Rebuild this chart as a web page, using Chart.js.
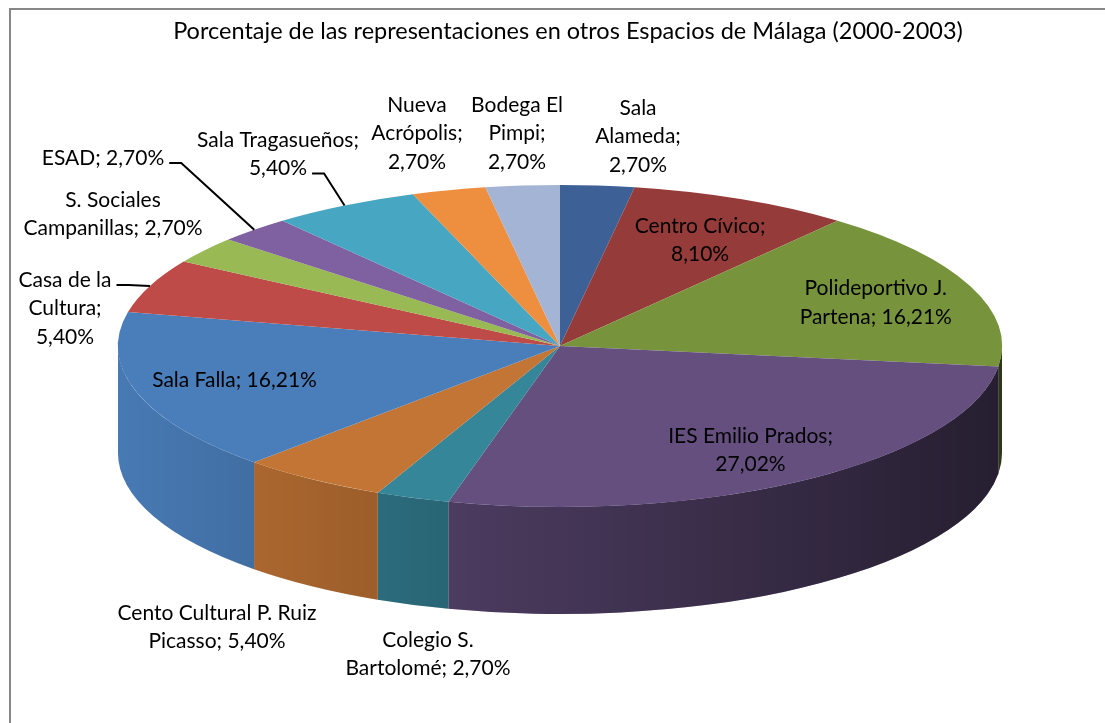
<!DOCTYPE html>
<html>
<head>
<meta charset="utf-8">
<title>Porcentaje de las representaciones en otros Espacios de Málaga</title>
<script src="https://cdn.jsdelivr.net/npm/chart.js@4"></script>
<style>
  html, body { margin: 0; padding: 0; background: #fff; }
  #chart { display: block; }
</style>
</head>
<body>
<canvas id="chart" width="1105" height="723"></canvas>
<script>
// data (Excel order, clockwise from 12 o'clock)
const TITLE = 'Porcentaje de las representaciones en otros Espacios de Málaga (2000-2003)';
const CATEGORIES = [
  'Sala Alameda', 'Centro Cívico', 'Polideportivo J. Partena', 'IES Emilio Prados',
  'Colegio S. Bartolomé', 'Cento Cultural P. Ruiz Picasso', 'Sala Falla', 'Casa de la Cultura',
  'S. Sociales Campanillas', 'ESAD', 'Sala Tragasueños', 'Nueva Acrópolis', 'Bodega El Pimpi'
];
const VALUES = [2.70, 8.10, 16.21, 27.02, 2.70, 5.40, 16.21, 5.40, 2.70, 2.70, 5.40, 2.70, 2.70];
const COLORS = [
  '#3d6196', '#953b39', '#77933c', '#644f7f', '#36869a', '#c37535', '#4a7eba',
  '#be4b48', '#98b954', '#7f60a0', '#47a6c1', '#ee8f40', '#a4b4d4'
];
// words per line of each data label
const WRAP = [[1,1,1],[2,1],[2,2],[3,1],[2,2],[4,2],[3],[3,1,1],[2,2],[2],[2,1],[1,1,1],[2,1,1]];

// label layout: inside labels follow the slice, outside ones sit where Excel put them
const LABEL_POS = [
  { x: 638, y: 108 }, { inside: true, ky: 0.72 }, { inside: true, ky: 0.72 }, { inside: true, ky: 0.78 },
  { x: 428, y: 640 }, { x: 217, y: 613 }, { inside: true, ky: 0.72 },
  { x: 65, y: 280, leader: 0 }, { x: 113, y: 200 }, { x: 103, y: 158, leader: 0 },
  { x: 278, y: 140, leader: 1 }, { x: 417, y: 105 }, { x: 517, y: 105 }
];

const STRETCH = 442 / 161;   // width / height of the tilted pie top
const DEPTH = 107;           // thickness of the pie
const LINE_H = 28.5;
const FONT = '21px Lato';

function pct(v) { return v.toFixed(2).replace('.', ',') + '%'; }

function labelLines(i) {
  const words = (CATEGORIES[i] + '; ' + pct(VALUES[i])).split(' ');
  const out = [];
  let k = 0;
  WRAP[i].forEach(n => { out.push(words.slice(k, k + n).join(' ')); k += n; });
  return out;
}

const pie3d = {
  id: 'pie3d',
  beforeDraw(chart) {
    const ctx = chart.ctx;
    ctx.save();
    ctx.strokeStyle = '#878787';
    ctx.lineWidth = 2;
    ctx.beginPath();
    ctx.moveTo(10, chart.height + 2);
    ctx.lineTo(10, 9);
    ctx.lineTo(chart.width + 2, 9);
    ctx.stroke();
    ctx.restore();
  },
  beforeDatasetsDraw(chart) {
    const ctx = chart.ctx;
    const arcs = chart.getDatasetMeta(0).data;
    const cx = arcs[0].x, cy = arcs[0].y;
    const ry = arcs[0].outerRadius, rx = ry * STRETCH;

    // side walls (front half only)
    const shade = ctx.createLinearGradient(cx - rx, 0, cx + rx, 0);
    shade.addColorStop(0, 'rgba(0,0,0,0.04)');
    shade.addColorStop(0.386, 'rgba(0,0,0,0.25)');
    shade.addColorStop(1, 'rgba(0,0,0,0.62)');
    arcs.forEach((arc, i) => {
      const a = Math.max(arc.startAngle, 0);
      const b = Math.min(arc.endAngle, Math.PI);
      if (b <= a) return;
      ctx.beginPath();
      ctx.ellipse(cx, cy, rx, ry, 0, a, b, false);
      ctx.ellipse(cx, cy + DEPTH, rx, ry, 0, b, a, true);
      ctx.closePath();
      ctx.fillStyle = COLORS[i];
      ctx.fill();
      ctx.fillStyle = shade;
      ctx.fill();
    });

    // squash the library's round pie into the tilted ellipse
    ctx.save();
    ctx.translate(cx, 0);
    ctx.scale(STRETCH, 1);
    ctx.translate(-cx, 0);
  },
  afterDatasetsDraw(chart) {
    chart.ctx.restore();
  },
  afterDraw(chart) {
    const ctx = chart.ctx;
    const arcs = chart.getDatasetMeta(0).data;
    const cx = arcs[0].x, cy = arcs[0].y;
    const ry = arcs[0].outerRadius, rx = ry * STRETCH;

    ctx.save();
    ctx.fillStyle = '#000';
    ctx.textAlign = 'center';
    ctx.textBaseline = 'middle';
    ctx.font = '23.5px Lato';
    ctx.fillText(TITLE, 568, 31);

    ctx.font = FONT;
    arcs.forEach((arc, i) => {
      const lines = labelLines(i);
      const pos = LABEL_POS[i];
      const mid = (arc.startAngle + arc.endAngle) / 2;
      let x, y;
      if (pos.inside) {
        x = cx + rx * 0.77 * Math.cos(mid);
        y = cy + ry * pos.ky * Math.sin(mid) - (lines.length - 1) * LINE_H / 2;
      } else {
        x = pos.x; y = pos.y;
      }
      lines.forEach((t, j) => ctx.fillText(t, x, y + j * LINE_H));

      if (pos.leader !== undefined) {
        const ly = y + pos.leader * LINE_H + 5;
        const lx = x + ctx.measureText(lines[pos.leader]).width / 2 + 5;
        ctx.strokeStyle = '#000';
        ctx.lineWidth = 2;
        ctx.beginPath();
        ctx.moveTo(lx, ly);
        ctx.lineTo(lx + 12, ly);
        ctx.lineTo(cx + rx * Math.cos(mid), cy + ry * Math.sin(mid));
        ctx.stroke();
      }
    });
    ctx.restore();
  }
};

new Chart(document.getElementById('chart'), {
  type: 'pie',
  data: {
    labels: CATEGORIES,
    datasets: [{
      data: VALUES,
      backgroundColor: COLORS,
      borderWidth: 0,
      hoverOffset: 0,
      clip: false
    }]
  },
  options: {
    responsive: false,
    animation: false,
    events: [],
    layout: { padding: { left: 399, right: 384, top: 185, bottom: 216 } },
    plugins: {
      legend: { display: false },
      tooltip: { enabled: false }
    }
  },
  plugins: [pie3d]
});
</script>
</body>
</html>
